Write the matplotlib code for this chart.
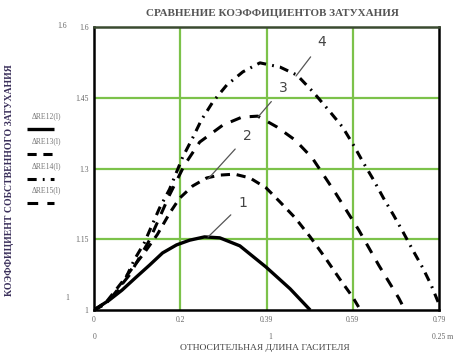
import matplotlib
matplotlib.use("Agg")
import matplotlib.pyplot as plt
from matplotlib.lines import Line2D

# ---- data ----
x1 = [0, 0.035, 0.064, 0.097, 0.127, 0.157, 0.189, 0.219, 0.253, 0.288, 0.334, 0.394, 0.449, 0.495]
y1 = [1.0, 1.021, 1.042, 1.070, 1.095, 1.121, 1.138, 1.148, 1.155, 1.153, 1.136, 1.091, 1.045, 1.0]

x2 = [0, 0.023, 0.041, 0.064, 0.088, 0.115, 0.145, 0.173, 0.196, 0.226, 0.258, 0.288, 0.322,
      0.357, 0.394, 0.426, 0.461, 0.495, 0.530, 0.564, 0.592, 0.610]
y2 = [1.0, 1.011, 1.032, 1.059, 1.089, 1.121, 1.160, 1.205, 1.237, 1.263, 1.280, 1.286, 1.288,
      1.280, 1.259, 1.229, 1.195, 1.155, 1.110, 1.064, 1.028, 1.0]

x3 = [0, 0.035, 0.081, 0.127, 0.173, 0.207, 0.242, 0.295, 0.339, 0.375, 0.419, 0.461, 0.500,
      0.553, 0.606, 0.652, 0.698, 0.712]
y3 = [1.0, 1.021, 1.074, 1.148, 1.244, 1.307, 1.356, 1.392, 1.409, 1.411, 1.388, 1.360, 1.322,
      1.248, 1.170, 1.095, 1.025, 1.0]

x4 = [0, 0.028, 0.051, 0.074, 0.092, 0.115, 0.131, 0.150, 0.173, 0.203, 0.226, 0.246, 0.272,
      0.304, 0.341, 0.380, 0.426, 0.465, 0.502, 0.537, 0.569, 0.594, 0.617, 0.640, 0.663,
      0.686, 0.709, 0.730, 0.753, 0.772, 0.788]
y4 = [1.0, 1.015, 1.036, 1.070, 1.106, 1.142, 1.176, 1.216, 1.256, 1.324, 1.365, 1.403, 1.441,
      1.477, 1.505, 1.524, 1.515, 1.498, 1.462, 1.424, 1.388, 1.350, 1.312, 1.276, 1.237,
      1.201, 1.163, 1.127, 1.089, 1.053, 1.017]

xticks = [0, 0.1975, 0.395, 0.5925, 0.79]
xtick_labels = ["0", "0.2", "0.39", "0.59", "0.79"]
yticks = [1.0, 1.15, 1.3, 1.45, 1.6]
ytick_labels = ["1", "1.15", "1.3", "1.45", "1.6"]
legend_labels = ["\u0394RE12(l)", "\u0394RE13(l)", "\u0394RE14(l)", "\u0394RE15(l)"]
curve_numbers = ["1", "2", "3", "4"]

title = "СРАВНЕНИЕ КОЭФФИЦИЕНТОВ ЗАТУХАНИЯ"
xlabel = "ОТНОСИТЕЛЬНАЯ ДЛИНА ГАСИТЕЛЯ"
ylabel = "КОЭФФИЦИЕНТ СОБСТВЕННОГО ЗАТУХАНИЯ"

# ---- figure ----
fig = plt.figure(figsize=(4.71, 3.54), dpi=100)
W, H = 471, 354
ax = fig.add_axes([94 / W, 1 - 310 / H, 345 / W, 283 / H])
ax.set_xlim(0, 0.79)
ax.set_ylim(1.0, 1.6)

green = "#7cc24a"
for xv in xticks[1:-1]:
    ax.axvline(xv, color=green, lw=1.6, zorder=1)
for yv in yticks[1:-1]:
    ax.axhline(yv, color=green, lw=1.6, zorder=1)

solid = dict(ls="-", lw=2.4)
short_dash = dict(ls=(0, (3, 2.2)), lw=2.2)
long_dash = dict(ls=(0, (3.5, 3)), lw=2.2)
dash_dot = dict(ls=(0, (3, 2, 0.6, 2)), lw=2.2)

styles = [solid, short_dash, long_dash, dash_dot]
xs = [x1, x2, x3, x4]
ys = [y1, y2, y3, y4]
for xx, yy, st in zip(xs, ys, styles):
    ax.plot(xx, yy, color="black", solid_capstyle="butt", dash_capstyle="butt", zorder=3, **st)

for s in ax.spines.values():
    s.set_color("black")
    s.set_linewidth(1.8)
ax.spines["top"].set_color("#3a4a30")

ax.set_xticks(xticks)
ax.set_xticklabels(xtick_labels)
ax.set_yticks(yticks)
ax.set_yticklabels(ytick_labels)
ax.tick_params(length=0, labelsize=5.5, labelcolor="#666666", pad=4)
for lab in ax.get_xticklabels() + ax.get_yticklabels():
    lab.set_family("Liberation Serif")

# curve number labels with pointer lines
pointers = [
    ((243, 203), (208, 237)),
    ((247, 136), (208, 179)),
    ((283, 88), (258, 117)),
    ((322, 42), (296, 76)),
]
for num, (tp, pp) in zip(curve_numbers, pointers):
    ax.annotate(num,
                xy=((pp[0] - 94) / 345 * 0.79, 1 + (310 - pp[1]) / 283 * 0.6),
                xytext=((tp[0] - 94) / 345 * 0.79, 1 + (310 - tp[1]) / 283 * 0.6),
                ha="center", va="center", fontsize=10, color="#444444",
                arrowprops=dict(arrowstyle="-", color="#555555", lw=0.9,
                                shrinkA=5, shrinkB=0))

# title / axis labels
fig.text(272 / W, 1 - 14 / H, title, ha="center", va="center", fontsize=8,
         family="Liberation Serif", fontweight="bold", color="#555555")
fig.text(265 / W, 1 - 348 / H, xlabel, ha="center", va="center", fontsize=6.8,
         family="Liberation Serif", color="#444444")
fig.text(10 / W, 1 - 180 / H, ylabel, ha="center", va="center", fontsize=7,
         rotation=90, family="Liberation Serif", fontweight="bold", color="#3a2f5a")

# extra Mathcad-style range labels
extra = [(95, 337, "0"), (270, 337, "1"), (443, 337, "0.25 m"), (62, 26, "1.6"), (67, 298, "1")]
for px, py, t in extra:
    fig.text(px / W, 1 - py / H, t, ha="center", va="center", fontsize=5.5,
             family="Liberation Serif", color="#666666")

# legend (text above line sample)
leg_styles = [solid, short_dash, dash_dot, long_dash]
leg_y = [116, 141, 166, 190]
for i, (lab, st) in enumerate(zip(legend_labels, leg_styles)):
    ty = leg_y[i]
    fig.text(32 / W, 1 - ty / H, lab, ha="left", va="center", fontsize=5.5,
             family="Liberation Serif", color="#777777")
    fig.add_artist(Line2D([27 / W, 54 / W], [1 - (ty + 13) / H] * 2, color="black",
                          transform=fig.transFigure, solid_capstyle="butt",
                          dash_capstyle="butt", **st))

fig.savefig("out.png", dpi=100)
